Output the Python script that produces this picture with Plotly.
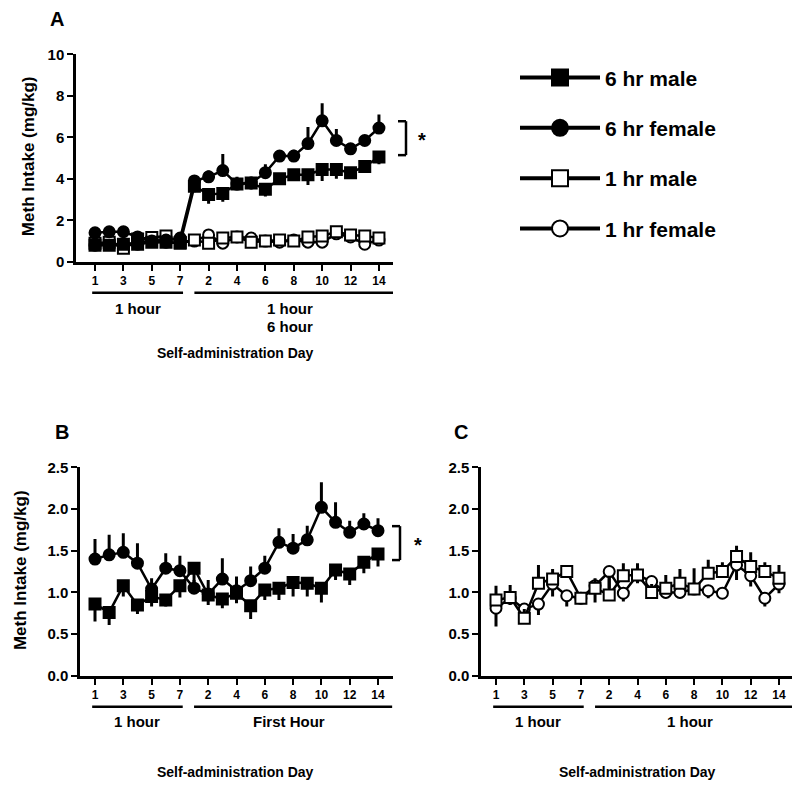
import plotly.graph_objects as go

# ---------------- data ----------------
days_idx = list(range(1, 22))
tick_vals = [1, 3, 5, 7, 9, 11, 13, 15, 17, 19, 21]
tick_text = ["1", "3", "5", "7", "2", "4", "6", "8", "10", "12", "14"]

# Panel A (total intake)
f6_A = [1.40, 1.45, 1.45, 1.20, 1.00, 1.05, 1.15, 3.90, 4.10, 4.40, 3.75, 3.80, 4.30, 5.10, 5.10, 5.70, 6.80, 5.85, 5.45, 5.85, 6.45]
f6_A_up = [0.15, 0.15, 0.15, 0.10, 0.10, 0.10, 0.10, 0.20, 0.30, 0.80, 0.35, 0.30, 0.40, 0.20, 0.30, 0.80, 0.85, 0.55, 0.20, 0.25, 0.65]
m6_A = [0.80, 0.80, 0.85, 0.85, 0.95, 0.95, 0.90, 3.65, 3.25, 3.30, 3.75, 3.80, 3.50, 4.00, 4.20, 4.20, 4.45, 4.45, 4.30, 4.60, 5.05]
m6_A_dn = [0.10, 0.10, 0.10, 0.10, 0.10, 0.10, 0.10, 0.30, 0.45, 0.40, 0.30, 0.30, 0.35, 0.20, 0.20, 0.50, 0.55, 0.45, 0.30, 0.30, 0.35]
m1_A = [0.90, 0.95, 0.65, 1.10, 1.17, 1.25, 0.93, 1.05, 0.90, 1.15, 1.20, 0.95, 1.00, 1.05, 1.00, 1.20, 1.25, 1.45, 1.30, 1.25, 1.15]
m1_A_up = [0.10] * 21
f1_A = [0.80, 0.93, 0.78, 0.85, 1.10, 0.95, 0.93, 1.00, 1.30, 0.90, 1.20, 1.15, 1.00, 0.95, 1.05, 0.95, 0.95, 1.35, 1.20, 0.85, 1.05]
f1_A_dn = [0.10] * 21

# Panel B (first hour, 6 hr groups)
f6_B = [1.40, 1.45, 1.48, 1.35, 1.04, 1.29, 1.26, 1.05, 0.98, 1.16, 1.02, 1.14, 1.29, 1.60, 1.53, 1.63, 2.02, 1.84, 1.72, 1.82, 1.74]
f6_B_up = [0.24, 0.24, 0.23, 0.24, 0.13, 0.18, 0.18, 0.10, 0.17, 0.25, 0.17, 0.17, 0.15, 0.17, 0.17, 0.17, 0.30, 0.24, 0.14, 0.13, 0.15]
m6_B = [0.86, 0.76, 1.08, 0.85, 0.95, 0.91, 1.08, 1.29, 0.97, 0.92, 0.99, 0.84, 1.03, 1.05, 1.12, 1.11, 1.05, 1.27, 1.22, 1.36, 1.46]
m6_B_dn = [0.21, 0.15, 0.13, 0.11, 0.12, 0.08, 0.14, 0.20, 0.12, 0.11, 0.12, 0.16, 0.12, 0.14, 0.17, 0.16, 0.17, 0.12, 0.13, 0.13, 0.15]

# Panel C (1 hr groups)
m1_C = [0.91, 0.94, 0.69, 1.11, 1.16, 1.25, 0.93, 1.05, 0.97, 1.20, 1.21, 1.00, 1.05, 1.11, 1.04, 1.23, 1.25, 1.43, 1.31, 1.25, 1.17]
m1_C_up = [0.17, 0.15, 0.11, 0.22, 0.12, 0.05, 0.03, 0.12, 0.23, 0.15, 0.14, 0.10, 0.16, 0.17, 0.25, 0.16, 0.11, 0.13, 0.17, 0.11, 0.16]
f1_C = [0.81, 0.93, 0.80, 0.86, 1.10, 0.96, 0.93, 1.08, 1.25, 0.99, 1.21, 1.13, 1.00, 1.00, 1.04, 1.02, 0.99, 1.33, 1.20, 0.93, 1.10]
f1_C_dn = [0.22, 0.08, 0.08, 0.13, 0.15, 0.13, 0.05, 0.20, 0.20, 0.10, 0.10, 0.05, 0.07, 0.07, 0.05, 0.09, 0.05, 0.18, 0.13, 0.10, 0.11]

series_names = ["6 hr male", "6 hr female", "1 hr male", "1 hr female"]

# ---------------- layout helpers ----------------
W, H = 800, 788
FONT = "Liberation Sans, Arial, sans-serif"


def px(x):
    # screen x -> paper fraction (page body margin shifts the figure by 8 px)
    return (x - 8) / W


def py(y):
    # screen y -> paper fraction (empirical page offset / scale)
    fy = (y - 15.5) / 0.981
    return 1 - fy / H


def zeros(n):
    return [0] * n


style = {
    "6 hr male": dict(symbol="square", color="black", line=dict(color="black", width=2)),
    "6 hr female": dict(symbol="circle", color="black", line=dict(color="black", width=2)),
    "1 hr male": dict(symbol="square", color="white", line=dict(color="black", width=2)),
    "1 hr female": dict(symbol="circle", color="white", line=dict(color="black", width=2)),
}


def trace(name, y, up, dn, xa, ya):
    return go.Scatter(
        x=days_idx, y=y, name=name, mode="lines+markers",
        line=dict(color="black", width=2.5),
        marker=dict(size=11, **style[name]),
        error_y=dict(type="data", symmetric=False, array=up, arrayminus=dn,
                     color="black", thickness=3, width=0),
        xaxis=xa, yaxis=ya, showlegend=False, legendgroup=name,
        hoverinfo="skip",
    )


fig = go.Figure()
n = len(days_idx)
# Panel A
fig.add_trace(trace("1 hr female", f1_A, zeros(n), f1_A_dn, "x", "y"))
fig.add_trace(trace("1 hr male", m1_A, m1_A_up, zeros(n), "x", "y"))
fig.add_trace(trace("6 hr male", m6_A, zeros(n), m6_A_dn, "x", "y"))
fig.add_trace(trace("6 hr female", f6_A, f6_A_up, zeros(n), "x", "y"))
# Panel B
fig.add_trace(trace("6 hr male", m6_B, zeros(n), m6_B_dn, "x2", "y2"))
fig.add_trace(trace("6 hr female", f6_B, f6_B_up, zeros(n), "x2", "y2"))
# Panel C
fig.add_trace(trace("1 hr female", f1_C, zeros(n), f1_C_dn, "x3", "y3"))
fig.add_trace(trace("1 hr male", m1_C, m1_C_up, zeros(n), "x3", "y3"))

# legend entries (order as in reference)
for nm in series_names:
    fig.add_trace(go.Scatter(
        x=[None], y=[None], name=nm, mode="lines+markers",
        line=dict(color="black", width=4),
        marker=dict(size=16, **style[nm]),
        xaxis="x", yaxis="y", showlegend=True, legendgroup=nm,
    ))

axis_common = dict(
    showline=True, linecolor="black", linewidth=2.5, ticks="outside",
    ticklen=6, tickwidth=2, tickcolor="black", showgrid=False, zeroline=False,
    fixedrange=True,
)
xt = dict(tickmode="array", tickvals=tick_vals, ticktext=tick_text,
          tickfont=dict(family=FONT, size=12, color="black", weight="bold"))
ytf = dict(family=FONT, size=15, color="black", weight="bold")

fig.update_layout(
    width=W, height=H, margin=dict(l=0, r=0, t=0, b=0),
    paper_bgcolor="white", plot_bgcolor="white",
    font=dict(family=FONT, color="black"),
    xaxis=dict(domain=[px(76), px(393)], range=[-0.34, 21.99], anchor="y", **axis_common, **xt),
    yaxis=dict(domain=[py(261), py(53)], range=[0, 10], anchor="x", tickvals=[0, 2, 4, 6, 8, 10],
               tickfont=ytf, **axis_common),
    xaxis2=dict(domain=[px(80), px(393)], range=[-0.06, 22.06], anchor="y2", **axis_common, **xt),
    yaxis2=dict(domain=[py(676), py(467)], range=[0, 2.5], anchor="x2", tickvals=[0, 0.5, 1, 1.5, 2, 2.5],
                tickformat=".1f", tickfont=ytf, **axis_common),
    xaxis3=dict(domain=[px(481), px(793)], range=[-0.06, 21.99], anchor="y3", **axis_common, **xt),
    yaxis3=dict(domain=[py(676), py(467)], range=[0, 2.5], anchor="x3", tickvals=[0, 0.5, 1, 1.5, 2, 2.5],
                tickformat=".1f", tickfont=ytf, **axis_common),
    legend=dict(x=px(515), y=py(56), xanchor="left", yanchor="top",
                font=dict(family=FONT, size=21, color="black", weight="bold"),
                tracegroupgap=20, itemwidth=80, bgcolor="rgba(0,0,0,0)"),
    showlegend=True,
)

bold = dict(family=FONT, color="black", weight="bold")
ann = []


def text(x, y, s, size=14, xref="paper", angle=0):
    ann.append(dict(x=x, y=y, xref=xref, yref="paper", text=s, showarrow=False,
                    font=dict(size=size, **bold), textangle=angle,
                    xanchor="center", yanchor="middle"))


# panel letters
text(px(57), py(18), "A", 20)
text(px(62), py(432), "B", 20)
text(px(461), py(432), "C", 20)
# y titles
text(px(28), py(155), "Meth Intake (mg/kg)", 17, angle=-90)
text(px(20), py(570), "Meth Intake (mg/kg)", 17, angle=-90)
# phase labels
text(4, py(308), "1 hour", 15, xref="x")
text(14.7, py(308), "1 hour", 15, xref="x")
text(14.7, py(326), "6 hour", 15, xref="x")
text(px(235), py(352), "Self-administration Day", 14)
text(4, py(722), "1 hour", 15, xref="x2")
text(14.7, py(722), "First Hour", 15, xref="x2")
text(px(235), py(772), "Self-administration Day", 14)
text(4, py(722), "1 hour", 15, xref="x3")
text(14.7, py(722), "1 hour", 15, xref="x3")
text(px(637), py(772), "Self-administration Day", 14)
# significance stars
text(px(422), py(139), "*", 20)
text(px(418), py(545), "*", 20)

shapes = []


def seg(x0, y0, x1, y1, xref="paper"):
    shapes.append(dict(type="line", xref=xref, yref="paper", x0=x0, y0=y0, x1=x1, y1=y1,
                       line=dict(color="black", width=2.5)))


# phase underline bars
for xr, ybar in (("x", 292), ("x2", 707), ("x3", 707)):
    seg(0.8, py(ybar), 7.2, py(ybar), xr)
    seg(8.0, py(ybar), 22.0, py(ybar), xr)
# brackets
seg(px(406), py(120), px(406), py(154))
seg(px(398), py(120), px(406), py(120))
seg(px(398), py(154), px(406), py(154))
seg(px(400), py(526), px(400), py(560))
seg(px(392), py(526), px(400), py(526))
seg(px(392), py(560), px(400), py(560))

fig.update_layout(annotations=ann, shapes=shapes)
fig.write_html("out.html")
